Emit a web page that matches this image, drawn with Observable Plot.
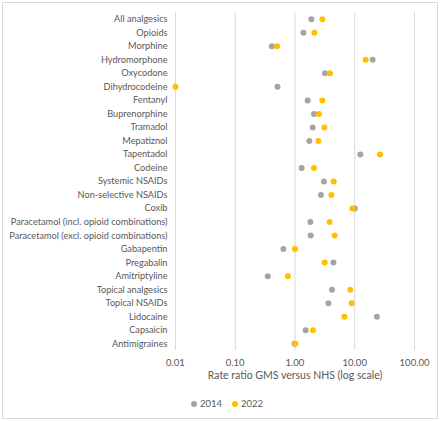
<!DOCTYPE html>
<html>
<head>
<meta charset="utf-8">
<script src="https://cdn.jsdelivr.net/npm/d3@7"></script>
<script src="https://cdn.jsdelivr.net/npm/@observablehq/plot@0.6"></script>
<style>
  body { margin: 0; background: #fff; font-family: Lato, "Liberation Sans", sans-serif; }
  #wrap { position: relative; width: 440px; height: 421px; overflow: hidden; }
  #frame { position: absolute; left: 2px; top: 2px; width: 434px; height: 415px; border: 1px solid #d9d9d9; pointer-events: none; }
  #chart { position: absolute; left: 0; top: 0; }
  #legend { position: absolute; left: 0; top: 398px; width: 440px; display: flex; justify-content: center; gap: 10px; font-size: 9.5px; color: #595959; padding-left: 14px; box-sizing: border-box; }
  #legend span.item { display: inline-flex; align-items: center; gap: 3px; }
  #legend span.dot { width: 6px; height: 6px; border-radius: 50%; display: inline-block; }
</style>
</head>
<body>
<div id="wrap">
  <div id="chart"></div>
  <div id="legend"></div>
  <div id="frame"></div>
</div>
<script>
const categories = [
  "All analgesics", "Opioids", "Morphine", "Hydromorphone", "Oxycodone", "Dihydrocodeine",
  "Fentanyl", "Buprenorphine", "Tramadol", "Mepatiznol", "Tapentadol", "Codeine",
  "Systemic NSAIDs", "Non-selective NSAIDs", "Coxib",
  "Paracetamol (incl. opioid combinations)", "Paracetamol (excl. opioid combinations)",
  "Gabapentin", "Pregabalin", "Amitriptyline", "Topical analgesics", "Topical NSAIDs",
  "Lidocaine", "Capsaicin", "Antimigraines"
];
const values2014 = [1.88, 1.38, 0.41, 19.9, 3.17, 0.51, 1.63, 2.08, 1.98, 1.74, 12.4, 1.29,
  3.05, 2.72, 10.0, 1.81, 1.83, 0.64, 4.39, 0.35, 4.16, 3.62, 23.5, 1.51, 0.98];
const values2022 = [2.87, 2.11, 0.50, 15.2, 3.85, 0.01, 2.87, 2.52, 3.10, 2.46, 26.4, 2.08,
  4.44, 4.06, 9.12, 3.80, 4.61, 1.00, 3.14, 0.76, 8.44, 8.87, 6.70, 2.00, 1.01];
const years = ["2014", "2022"];
const colors = ["#A5A5A5", "#FFC000"];
const xTicks = [0.01, 0.1, 1, 10, 100];

const data = [];
years.forEach((yr, k) => {
  const vals = k === 0 ? values2014 : values2022;
  categories.forEach((c, i) => data.push({ category: c, year: yr, value: vals[i] }));
});

const textColor = "#595959";
const chart = Plot.plot({
  width: 440,
  height: 392,
  marginLeft: 175,
  marginRight: 26,
  marginTop: 12,
  marginBottom: 42,
  style: { fontFamily: "Lato, 'Liberation Sans', sans-serif", background: "transparent" },
  x: { type: "log", domain: [0.01, 100] },
  y: { type: "point", domain: categories, padding: 0.5, round: false },
  color: { domain: years, range: colors },
  marks: [
    Plot.ruleX(xTicks, { stroke: "#d9d9d9", strokeWidth: 1 }),
    Plot.axisX({ ticks: xTicks, tickFormat: d => d.toFixed(2), tickSize: 0, tickPadding: 9, fontSize: 9.5, color: textColor, label: null }),
    Plot.axisY({ tickSize: 0, tickPadding: 8, fontSize: 9.2, color: textColor, label: null }),
    Plot.text(["Rate ratio GMS versus NHS (log scale)"], { text: d => d, frameAnchor: "bottom", dy: 28, fontSize: 10.5, fill: textColor }),
    Plot.dot(data, { x: "value", y: "category", fill: "year", r: 3 })
  ]
});
document.getElementById("chart").appendChild(chart);

const legend = document.getElementById("legend");
years.forEach((yr, k) => {
  const item = document.createElement("span");
  item.className = "item";
  const dot = document.createElement("span");
  dot.className = "dot";
  dot.style.background = colors[k];
  item.appendChild(dot);
  item.appendChild(document.createTextNode(yr));
  legend.appendChild(item);
});
</script>
</body>
</html>
